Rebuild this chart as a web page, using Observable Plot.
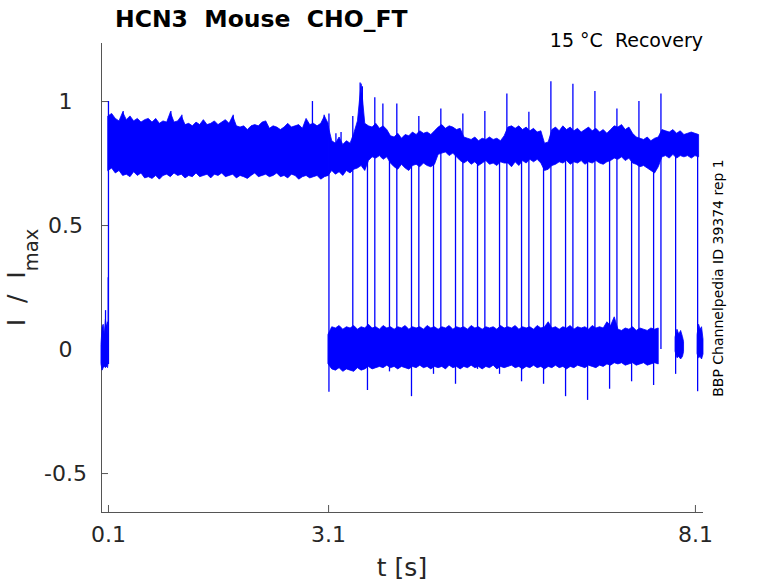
<!DOCTYPE html>
<html>
<head>
<meta charset="utf-8">
<script src="https://cdn.jsdelivr.net/npm/d3@7"></script>
<script src="https://cdn.jsdelivr.net/npm/@observablehq/plot@0.6"></script>
<style>
  html, body { margin: 0; padding: 0; background: #fff; }
  svg text { white-space: pre; }
</style>
</head>
<body>
<div id="chart"></div>
<script>
// ---- axes ----
const xDomain = [0.005, 8.21];
const yDomain = [-0.657, 1.234];
const xTicks = [0.1, 3.1, 8.1];
const yTicks = [-0.5, 0, 0.5, 1];

// ---- texts ----
const titleText = "HCN3  Mouse  CHO_FT";
const conditionText = "15 °C  Recovery";
const sideText = "BBP Channelpedia ID 39374 rep 1";
const xLabel = "t [s]";
const yLabelMain = "I  /  I";
const yLabelSub = "max";

// ---- pre-pulse holding current (noise band around 0) ----
const preT  = [0.005, 0.02, 0.035, 0.05, 0.065, 0.08, 0.095, 0.1];
const preHi = [0.02, 0.09, 0.10, 0.06, 0.12, 0.09, 0.11, 0.06];
const preLo = [-0.06, -0.085, -0.075, -0.07, -0.075, -0.07, -0.075, -0.06];

// ---- activation plateau 0.1–3.1 s (noise envelope) ----
const plateauT = [0.10,0.15,0.20,0.25,0.30,0.35,0.40,0.45,0.50,0.55,0.60,0.65,0.70,0.75,0.80,0.85,0.90,0.95,1.00,1.05,
  1.10,1.15,1.20,1.25,1.30,1.35,1.40,1.45,1.50,1.55,1.60,1.65,1.70,1.75,1.80,1.85,1.90,1.95,2.00,2.05,
  2.10,2.15,2.20,2.25,2.30,2.35,2.40,2.45,2.50,2.55,2.60,2.65,2.70,2.75,2.80,2.85,2.90,2.95,3.00,3.05,3.10];
const plateauHi = [0.94,0.95,0.93,0.92,0.955,0.925,0.94,0.92,0.93,0.915,0.925,0.93,0.915,0.93,0.91,0.92,0.915,0.955,0.915,0.92,
  0.94,0.905,0.91,0.90,0.915,0.905,0.925,0.905,0.91,0.92,0.905,0.915,0.925,0.91,0.94,0.90,0.895,0.90,0.885,0.90,
  0.905,0.90,0.915,0.92,0.89,0.90,0.895,0.885,0.895,0.91,0.895,0.90,0.905,0.89,0.93,0.905,0.91,0.90,0.91,0.94,0.91];
const plateauLo = [0.72,0.73,0.71,0.72,0.70,0.705,0.695,0.715,0.70,0.71,0.69,0.695,0.688,0.70,0.685,0.70,0.705,0.695,0.71,0.70,
  0.705,0.69,0.70,0.695,0.71,0.695,0.70,0.705,0.69,0.705,0.70,0.71,0.695,0.70,0.705,0.69,0.70,0.695,0.688,0.70,
  0.71,0.695,0.70,0.705,0.695,0.70,0.71,0.695,0.70,0.69,0.705,0.70,0.685,0.695,0.70,0.69,0.695,0.70,0.685,0.695,0.70];

// ---- recovery phase 3.1–8.15 s: open-level band (top) and closed-level band (bottom) ----
const afterT = [3.10,3.15,3.20,3.25,3.30,3.35,3.40,3.45,3.50,3.55,3.60,3.65,3.70,3.75,3.80,3.85,3.90,3.95,
  4.00,4.05,4.10,4.15,4.20,4.25,4.30,4.35,4.40,4.45,4.50,4.55,4.60,4.65,4.70,4.75,4.80,4.85,4.90,4.95,
  5.00,5.05,5.10,5.15,5.20,5.25,5.30,5.35,5.40,5.45,5.50,5.55,5.60,5.65,5.70,5.75,5.80,5.85,5.90,5.95,
  6.00,6.05,6.10,6.15,6.20,6.25,6.30,6.35,6.40,6.45,6.50,6.55,6.60,6.65,6.70,6.75,6.80,6.85,6.90,6.95,
  7.00,7.05,7.10,7.15,7.20,7.25,7.30,7.35,7.40,7.45,7.50,7.55,7.60,7.65,7.70,7.75,7.80,7.85,7.90,7.95,
  8.00,8.05,8.10,8.15];
const topHi = [0.90,0.84,0.83,0.855,0.825,0.84,0.83,0.87,0.92,1.07,0.91,0.90,0.895,0.91,0.89,0.90,0.885,0.86,
  0.855,0.87,0.85,0.865,0.86,0.875,0.865,0.88,0.87,0.875,0.865,0.88,0.895,0.905,0.89,0.90,0.895,0.885,0.89,0.855,
  0.85,0.845,0.855,0.84,0.85,0.845,0.855,0.845,0.85,0.84,0.86,0.895,0.90,0.89,0.90,0.885,0.895,0.88,0.89,0.875,
  0.88,0.83,0.835,0.885,0.895,0.88,0.90,0.885,0.895,0.88,0.89,0.875,0.885,0.895,0.88,0.89,0.875,0.885,0.87,0.885,
  0.90,0.895,0.905,0.885,0.895,0.87,0.855,0.85,0.845,0.855,0.84,0.85,0.855,0.885,0.88,0.875,0.885,0.87,0.88,0.865,
  0.87,0.875,0.87,0.865];
const topLo = [0.70,0.72,0.705,0.715,0.70,0.72,0.71,0.725,0.73,0.74,0.72,0.76,0.775,0.77,0.78,0.765,0.775,0.75,
  0.735,0.725,0.745,0.73,0.72,0.74,0.745,0.735,0.75,0.74,0.735,0.745,0.785,0.79,0.795,0.78,0.79,0.775,0.76,0.75,
  0.76,0.745,0.755,0.74,0.75,0.76,0.745,0.75,0.74,0.755,0.75,0.75,0.735,0.755,0.74,0.76,0.75,0.765,0.755,0.765,
  0.75,0.72,0.725,0.74,0.745,0.755,0.75,0.76,0.745,0.755,0.75,0.76,0.745,0.755,0.75,0.76,0.75,0.745,0.755,0.76,
  0.77,0.765,0.775,0.76,0.77,0.75,0.745,0.735,0.74,0.73,0.72,0.71,0.735,0.775,0.78,0.77,0.785,0.77,0.78,0.775,
  0.78,0.77,0.78,0.775];
const bottomHi = [0.06,0.09,0.085,0.095,0.08,0.09,0.085,0.095,0.08,0.09,0.085,0.10,0.085,0.09,0.08,0.095,0.085,0.09,
  0.08,0.09,0.085,0.095,0.08,0.09,0.085,0.09,0.08,0.095,0.085,0.09,0.08,0.09,0.085,0.095,0.08,0.09,0.085,0.09,
  0.08,0.095,0.085,0.09,0.08,0.09,0.085,0.09,0.08,0.095,0.085,0.09,0.085,0.095,0.08,0.09,0.085,0.09,0.08,0.095,
  0.085,0.09,0.11,0.085,0.09,0.08,0.09,0.085,0.095,0.08,0.09,0.085,0.09,0.08,0.095,0.085,0.09,0.085,0.11,0.095,
  0.13,0.08,0.075,0.085,0.08,0.09,0.075,0.085,0.08,0.075,0.085,0.08,0.085,null,null,null,null,null,null,null,
  null,null,null,null];
const bottomLo = [-0.06,-0.08,-0.085,-0.075,-0.09,-0.08,-0.085,-0.09,-0.075,-0.085,-0.08,-0.07,-0.08,-0.075,-0.07,-0.075,-0.065,-0.075,
  -0.07,-0.08,-0.07,-0.075,-0.08,-0.07,-0.075,-0.065,-0.075,-0.07,-0.08,-0.07,-0.075,-0.07,-0.08,-0.065,-0.075,-0.07,-0.08,-0.07,
  -0.075,-0.065,-0.075,-0.07,-0.08,-0.07,-0.075,-0.065,-0.08,-0.07,-0.075,-0.07,-0.065,-0.075,-0.07,-0.08,-0.07,-0.075,-0.065,-0.075,
  -0.07,-0.08,-0.07,-0.075,-0.065,-0.075,-0.07,-0.08,-0.07,-0.075,-0.065,-0.07,-0.075,-0.065,-0.07,-0.075,-0.065,-0.07,-0.06,-0.065,
  -0.055,-0.06,-0.055,-0.065,-0.06,-0.055,-0.065,-0.06,-0.055,-0.065,-0.06,-0.055,-0.06,null,null,null,null,null,null,null,
  null,null,null,null];

// ---- short late segments near 0 ----
const blobET  = [7.83, 7.855, 7.88, 7.905, 7.93, 7.945];
const blobEHi = [0.05, 0.08, 0.06, 0.075, 0.05, 0.03];
const blobELo = [-0.01, -0.035, -0.03, -0.04, -0.03, -0.01];
const blobFT  = [8.13, 8.15, 8.17, 8.19, 8.21];
const blobFHi = [0.06, 0.10, 0.08, 0.09, 0.04];
const blobFLo = [-0.02, -0.035, -0.03, -0.04, -0.02];

// ---- voltage steps: big transitions ----
const stepT    = [0.1, 3.105];
const stepFrom = [-0.06, 0.95];
const stepTo   = [1.0, -0.172];

// ---- recovery test pulses: rising edges (closed -> open peak) ----
const upT   = [3.43, 3.73, 4.03, 4.33, 4.63, 4.93, 5.23, 5.53, 5.83, 6.13, 6.43, 6.73, 7.03, 7.33, 7.63];
const upTop = [0.94, 1.015, 0.99, 0.94, 0.97, 0.95, 0.96, 1.03, 0.957, 1.08, 1.07, 1.04, 0.97, 1.0, 1.03];
// falling edges (open -> undershoot)
const downT   = [3.63, 3.93, 4.23, 4.53, 4.83, 5.13, 5.43, 5.73, 6.03, 6.33, 6.63, 6.93, 7.23, 7.53, 7.83, 8.13];
const downBot = [-0.165, -0.09, -0.19, -0.10, -0.14, -0.08, -0.10, -0.13, -0.14, -0.19, -0.205, -0.16, -0.13, -0.145, -0.10, -0.17];

// ---- isolated noise spikes ----
const spikeT  = [0.06, 0.097, 0.30, 0.95, 1.10, 1.80, 2.88, 3.04, 3.53, 3.56, 3.84, 3.20, 3.27];
const spikeLo = [0.05, 0.0, 0.9, 0.9, 0.9, 0.9, 0.9, 0.9, 0.9, 0.9, 0.85, 0.8, 0.8];
const spikeHi = [0.157, 0.29, 0.96, 0.96, 0.945, 0.945, 1.0, 0.945, 1.075, 1.06, 0.99, 0.87, 0.875];

// ---- build tables ----
const band = (T, H, L) => T.map((t, i) => ({t, hi: H[i], lo: L[i]}));
const segs = (T, A, B) => T.map((t, i) => ({t, a: A[i], b: B[i]}));
const preBand = band(preT, preHi, preLo);
const plateauBand = band(plateauT, plateauHi, plateauLo);
const topBand = band(afterT, topHi, topLo);
const bottomBand = band(afterT, bottomHi, bottomLo);
const blobE = band(blobET, blobEHi, blobELo);
const blobF = band(blobFT, blobFHi, blobFLo);
const steps = segs(stepT, stepFrom, stepTo);
const ups = segs(upT, upT.map(() => 0), upTop);
const downs = segs(downT, downT.map(() => 0.8), downBot);
const spikes = segs(spikeT, spikeLo, spikeHi);

const BLUE = "#0000ff";
const AX = "#555555";
const W = 778, H = 583, mL = 101, mR = 75, mT = 43, mB = 71;

const areaOpts = {x: "t", y1: "lo", y2: "hi", fill: BLUE, stroke: BLUE, strokeWidth: 0.8};
const ruleOpts = {x: "t", y1: "a", y2: "b", stroke: BLUE, strokeWidth: 1.3};

const chart = Plot.plot({
  width: W, height: H,
  marginLeft: mL, marginRight: mR, marginTop: mT, marginBottom: mB,
  style: {fontFamily: "DejaVu Sans", color: "#262626", background: "#fff"},
  x: {domain: xDomain},
  y: {domain: yDomain},
  marks: [
    Plot.ruleX([xDomain[0]], {stroke: AX}),
    Plot.ruleY([yDomain[0]], {stroke: AX}),
    Plot.tickX(xTicks, {x: d => d, stroke: AX, insetTop: (H - mT - mB) - 7}),
    Plot.tickY(yTicks, {y: d => d, stroke: AX, insetRight: (W - mL - mR) - 7}),
    Plot.axisX(xTicks, {tickSize: 0, tickPadding: 14, fontSize: 22, label: null, tickFormat: d => String(d)}),
    Plot.axisY(yTicks, {tickSize: 0, tickPadding: 0, textAnchor: "middle", dx: -36, fontSize: 22, label: null, tickFormat: d => String(d)}),
    Plot.areaY(preBand, areaOpts),
    Plot.areaY(plateauBand, areaOpts),
    Plot.areaY(topBand, areaOpts),
    Plot.areaY(bottomBand, areaOpts),
    Plot.areaY(blobE, areaOpts),
    Plot.areaY(blobF, areaOpts),
    Plot.ruleX(steps, ruleOpts),
    Plot.ruleX(ups, ruleOpts),
    Plot.ruleX(downs, ruleOpts),
    Plot.ruleX(spikes, ruleOpts)
  ]
});

const svg = d3.select(chart);
svg.append("text")
  .attr("x", 115).attr("y", 27).attr("text-anchor", "start")
  .attr("font-size", 23.5).attr("font-weight", "bold").attr("fill", "#000")
  .attr("font-family", "DejaVu Sans")
  .text(titleText);
svg.append("text")
  .attr("x", 703).attr("y", 47).attr("text-anchor", "end")
  .attr("font-size", 19).attr("fill", "#000").attr("font-family", "DejaVu Sans")
  .text(conditionText);
svg.append("text")
  .attr("transform", "translate(723,278) rotate(-90)").attr("text-anchor", "middle")
  .attr("font-size", 14).attr("fill", "#000").attr("font-family", "DejaVu Sans")
  .text(sideText);
svg.append("text")
  .attr("x", 402).attr("y", 576).attr("text-anchor", "middle")
  .attr("font-size", 25).attr("fill", "#262626").attr("font-family", "DejaVu Sans")
  .text(xLabel);
const yl = svg.append("text")
  .attr("transform", "translate(25,277.5) rotate(-90)").attr("text-anchor", "middle")
  .attr("font-size", 25).attr("fill", "#262626").attr("font-family", "DejaVu Sans");
yl.append("tspan").text(yLabelMain);
yl.append("tspan").attr("dy", 13).attr("font-size", 19.5).text(yLabelSub);

document.getElementById("chart").appendChild(chart);
</script>
</body>
</html>
